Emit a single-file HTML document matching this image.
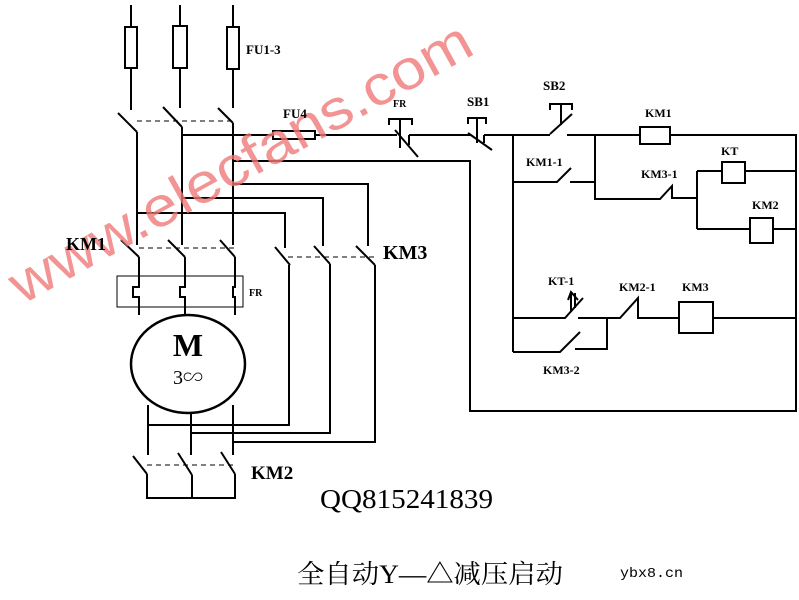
<!DOCTYPE html>
<html><head><meta charset="utf-8"><style>
html,body{margin:0;padding:0;background:#fff;width:799px;height:600px;overflow:hidden}
svg{display:block}
text{font-family:"Liberation Serif","Noto Serif CJK SC",serif;font-weight:bold;fill:#000}
</style></head><body>
<svg width="799" height="600" viewBox="0 0 799 600" xmlns="http://www.w3.org/2000/svg">
<g stroke="#000" stroke-width="2" fill="none">
<line x1="131" y1="5" x2="131" y2="110"/><line x1="180" y1="5" x2="180" y2="108"/><line x1="233" y1="5" x2="233" y2="108"/>
<rect x="125" y="27" width="12" height="41" fill="#fff"/><rect x="173" y="26" width="14" height="42" fill="#fff"/><rect x="227" y="27" width="12" height="42" fill="#fff"/>
<line x1="118" y1="113" x2="137" y2="132"/><line x1="163" y1="107" x2="182" y2="127"/><line x1="218" y1="108" x2="233" y2="123"/>
<line x1="137" y1="121" x2="233" y2="121" stroke-width="1" stroke-dasharray="5,4"/>
<line x1="137" y1="132" x2="137" y2="245"/><line x1="182" y1="127" x2="182" y2="245"/><line x1="233" y1="123" x2="233" y2="245"/>
<polyline points="182,135 397,135"/>
<rect x="273" y="131" width="42" height="8" fill="#fff"/>
<polyline points="233,161 470,161 470,411 797,411"/>
<polyline points="233,184 368,184 368,246"/>
<polyline points="182,198 323,198 323,246"/>
<polyline points="137,213 285,213 285,248"/>
<line x1="121" y1="240" x2="139" y2="257"/><line x1="168" y1="240" x2="185" y2="257"/><line x1="220" y1="240" x2="235" y2="257"/>
<line x1="139" y1="248" x2="235" y2="248" stroke-width="1" stroke-dasharray="5,4"/>
<line x1="139" y1="257" x2="139" y2="285"/><line x1="185" y1="257" x2="185" y2="285"/><line x1="235" y1="257" x2="235" y2="285"/>
<line x1="275" y1="247" x2="290" y2="265"/><line x1="314" y1="246" x2="330" y2="264"/><line x1="356" y1="246" x2="375" y2="265"/>
<line x1="288" y1="257" x2="375" y2="257" stroke-width="1" stroke-dasharray="5,4"/>
<polyline points="289,265 289,425 148,425"/>
<polyline points="330,264 330,433 191,433"/>
<polyline points="375,265 375,442 233,442"/>
<rect x="117" y="276" width="126" height="31" stroke-width="1"/>
<polyline points="139,276 139,287 133,287 133,297 139,297 139,315"/>
<polyline points="185,276 185,287 180,287 180,297 185,297 185,315"/>
<polyline points="235,276 235,287 233,287 233,297 235,297 235,315"/>
<ellipse cx="188" cy="364" rx="57" ry="49" fill="#fff" stroke-width="2.5"/>
<line x1="148" y1="405" x2="148" y2="455"/><line x1="191" y1="413" x2="191" y2="455"/><line x1="233" y1="405" x2="233" y2="455"/>
<line x1="133" y1="456" x2="147" y2="474"/><line x1="178" y1="453" x2="192" y2="475"/><line x1="221" y1="452" x2="235" y2="474"/>
<line x1="147" y1="465" x2="235" y2="465" stroke-width="1" stroke-dasharray="5,4"/>
<polyline points="147,474 147,498 235,498 235,474"/><line x1="192" y1="475" x2="192" y2="498"/>
<polyline points="389,125 389,119 412,119 412,125"/><line x1="400" y1="119" x2="400" y2="148"/>
<line x1="395" y1="130" x2="418" y2="157"/>
<line x1="409" y1="135" x2="470" y2="135"/><line x1="409" y1="135" x2="409" y2="145"/>
<polyline points="468,124 468,118 486,118 486,124"/><line x1="477" y1="118" x2="477" y2="143"/>
<line x1="468" y1="133" x2="492" y2="150"/>
<line x1="484" y1="135" x2="550" y2="135"/><line x1="484" y1="135" x2="484" y2="143"/>
<line x1="513" y1="135" x2="513" y2="352"/>
<polyline points="550,110 550,104 572,104 572,110"/><line x1="561" y1="104" x2="561" y2="125"/>
<line x1="550" y1="134" x2="572" y2="114"/>
<polyline points="567,135 796,135 796,411"/>
<rect x="640" y="127" width="30" height="17" fill="#fff"/>
<polyline points="513,182 557,182 571,168"/><polyline points="570,182 595,182"/>
<polyline points="595,135 595,199 660,199 672,186 672,198 697,198"/>
<polyline points="697,171 697,229"/>
<polyline points="697,171 796,171"/><rect x="722" y="162" width="23" height="21" fill="#fff"/>
<polyline points="697,229 796,229"/><rect x="750" y="218" width="23" height="25" fill="#fff"/>
<polyline points="513,318 565,318 583,298"/>
<polyline points="568,300 571,292 578,300"/><line x1="571" y1="293" x2="571" y2="312"/><line x1="575" y1="293" x2="575" y2="308"/>
<polyline points="578,318 607,318 607,349 575,349"/>
<polyline points="513,352 560,352 580,332"/>
<polyline points="607,318 620,318 638,298 638,318 679,318"/>
<line x1="713" y1="318" x2="796" y2="318"/>
<rect x="679" y="302" width="34" height="31" fill="#fff"/>
</g>
<text x="22" y="305" transform="rotate(-29 22 305)" textLength="520" lengthAdjust="spacingAndGlyphs" style="font-family:'Liberation Sans',sans-serif;font-weight:normal;font-size:56px;fill:#f07a7a;opacity:0.8">www.elecfans.com</text>
<text x="246" y="54" font-size="13">FU1-3</text>
<text x="283" y="118" font-size="13">FU4</text>
<text x="393" y="107" font-size="10">FR</text>
<text x="467" y="106" font-size="13">SB1</text>
<text x="543" y="90" font-size="13">SB2</text>
<text x="645" y="117" font-size="12">KM1</text>
<text x="526" y="166" font-size="12">KM1-1</text>
<text x="641" y="178" font-size="12">KM3-1</text>
<text x="721" y="155" font-size="12">KT</text>
<text x="752" y="209" font-size="12">KM2</text>
<text x="548" y="285" font-size="12">KT-1</text>
<text x="619" y="291" font-size="12">KM2-1</text>
<text x="682" y="291" font-size="12">KM3</text>
<text x="543" y="374" font-size="12">KM3-2</text>
<text x="383" y="259" font-size="20">KM3</text>
<text x="66" y="250" font-size="18">KM1</text>
<text x="249" y="296" font-size="10">FR</text>
<text x="188" y="356" font-size="32" text-anchor="middle">M</text>
<text x="188" y="384" font-size="20" text-anchor="middle" style="font-weight:normal">3∽</text>
<text x="251" y="479" font-size="19">KM2</text>
<text x="320" y="508" font-size="27" textLength="173" lengthAdjust="spacingAndGlyphs" style="font-weight:normal">QQ815241839</text>
<text x="297" y="583" font-size="26" textLength="266" lengthAdjust="spacingAndGlyphs" style="font-weight:normal">全自动Y—△减压启动</text>
<text x="620" y="577" font-size="14" textLength="63" lengthAdjust="spacingAndGlyphs" style="font-family:'Liberation Mono',monospace;font-weight:normal">ybx8.cn</text>
</svg>
</body></html>
